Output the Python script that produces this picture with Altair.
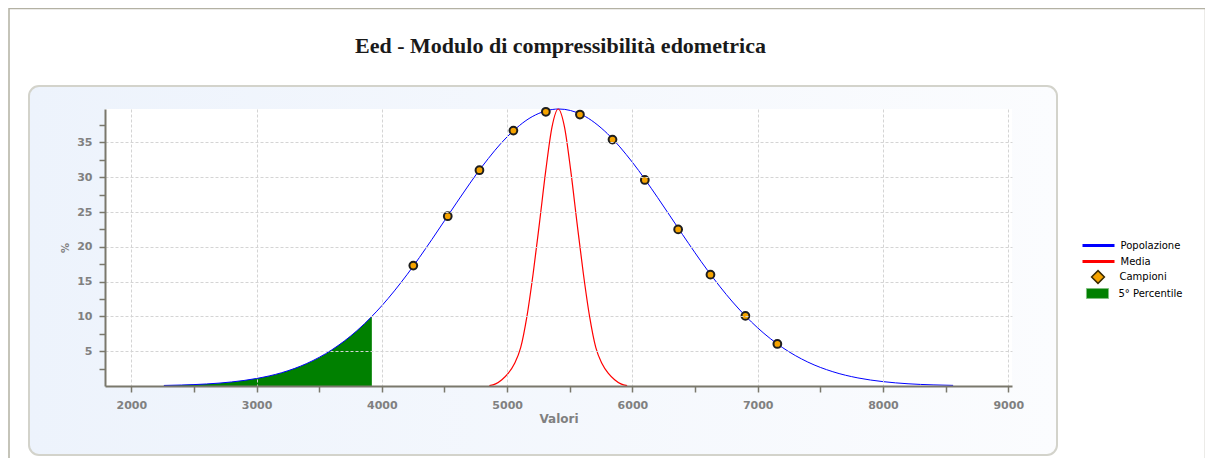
import altair as alt
import pandas as pd

# ---------------- data ----------------
TITLE = "Eed - Modulo di compressibilità edometrica"
X_TITLE = "Valori"
Y_TITLE = "%"

SERIES = ["Popolazione", "Media", "Campioni", "5° Percentile"]
COLORS = ["#0000ff", "#ff0000", "#f5a300", "#008000"]

# Popolazione (blue curve)
POP_X = [2260, 2400, 2600, 2800, 3000, 3200, 3400, 3600, 3800, 3920, 4000,
         4200, 4400, 4600, 4800, 5000, 5200, 5413, 5600, 5800, 6000, 6200,
         6400, 6600, 6800, 7000, 7200, 7400, 7600, 7800, 8000, 8200, 8400, 8560]
POP_Y = [0.08, 0.14, 0.29, 0.58, 1.08, 1.91, 3.23, 5.19, 7.93, 10.0, 11.54,
         15.98, 21.07, 26.42, 31.53, 35.80, 38.70, 39.80, 38.95, 36.27, 32.14, 27.11,
         21.76, 16.61, 12.07, 8.35, 5.50, 3.44, 2.05, 1.16, 0.63, 0.32, 0.16, 0.09]

# Media (red curve)
MEDIA_X = [4858, 4908, 4958, 5008, 5058, 5108, 5158, 5208, 5258, 5308, 5358, 5408,
           5458, 5508, 5558, 5608, 5658, 5708, 5758, 5808, 5858, 5908, 5958]
MEDIA_Y = [0.05, 0.3, 0.9, 1.8, 3.2, 5.5, 10.0, 16.2, 23.4, 30.9, 37.2, 39.8,
           37.2, 30.9, 23.4, 16.2, 10.0, 5.5, 3.2, 1.8, 0.9, 0.3, 0.05]

# Campioni (sample points)
CAMP_X = [4251, 4526, 4779, 5050, 5309, 5581, 5841, 6099, 6365, 6623, 6902, 7157]
CAMP_Y = [17.3, 24.4, 31.0, 36.7, 39.4, 39.0, 35.4, 29.6, 22.5, 16.0, 10.07, 6.04]

# 5th percentile (end of the green area)
P5 = 3920

X_DOMAIN = [1790, 9030]
Y_DOMAIN = [0, 39.8]
X_TICKS = [2000, 2500, 3000, 3500, 4000, 4500, 5000, 5500, 6000, 6500, 7000, 7500, 8000, 8500, 9000]
Y_TICKS = [2.5, 5, 7.5, 10, 12.5, 15, 17.5, 20, 22.5, 25, 27.5, 30, 32.5, 35, 37.5]

# ---------------- layout constants ----------------
W, H = 907, 277
AXIS_COL = "#7a786c"
LABEL_COL = "#808080"
GRID_COL = "#d4d4d4"
LBL_FONT = "DejaVu Sans"

pop = pd.DataFrame({"x": POP_X, "y": POP_Y, "serie": SERIES[0]})
media = pd.DataFrame({"x": MEDIA_X, "y": MEDIA_Y, "serie": SERIES[1]})
camp = pd.DataFrame({"x": CAMP_X, "y": CAMP_Y, "serie": SERIES[2]})
one = pd.DataFrame({"k": [0]})

x_axis = alt.Axis(
    values=X_TICKS, format="d",
    labelExpr="datum.value % 1000 === 0 ? datum.label : ''",
    grid=True, gridColor=GRID_COL, gridDash=[3, 2], gridWidth=1,
    gridOpacity={"condition": {"test": "datum.value % 1000 === 0", "value": 1}, "value": 0},
    domainColor=AXIS_COL, domainWidth=2, tickColor=AXIS_COL, tickWidth=1.5, tickSize=6,
    labelFont=LBL_FONT, labelFontSize=11, labelFontWeight="bold", labelColor=LABEL_COL,
    labelPadding=7, labelFlush=False, labelOverlap=False,
    title=X_TITLE, titleFont=LBL_FONT, titleFontSize=12, titleFontWeight="bold",
    titleColor=LABEL_COL, titlePadding=3, zindex=1,
)
y_axis = alt.Axis(
    values=Y_TICKS,
    labelExpr="datum.value % 5 === 0 ? datum.label : ''",
    grid=True, gridColor=GRID_COL, gridDash=[3, 2], gridWidth=1,
    gridOpacity={"condition": {"test": "datum.value % 5 === 0", "value": 1}, "value": 0},
    domainColor=AXIS_COL, domainWidth=2, tickColor=AXIS_COL, tickWidth=1.5, tickSize=6,
    labelFont=LBL_FONT, labelFontSize=11, labelFontWeight="bold", labelColor=LABEL_COL,
    labelPadding=7, labelOverlap=False,
    title=Y_TITLE, titleFont=LBL_FONT, titleFontSize=10, titleFontWeight="bold",
    titleColor=LABEL_COL, titlePadding=6, zindex=1,
)
xs = alt.Scale(domain=X_DOMAIN, nice=False, zero=False)
ys = alt.Scale(domain=Y_DOMAIN, nice=False, zero=False)


def legend(row_y, symbol, **kw):
    return alt.Legend(
        title=None, orient="none", legendX=976, legendY=row_y,
        symbolType=symbol, symbolSize=1024, symbolOffset=0, padding=0,
        labelOffset=4.5, labelFont=LBL_FONT, labelFontSize=10, labelColor="#000000",
        **kw,
    )


# ---------------- decorations ----------------
frame = alt.Chart(one).mark_rect(filled=False, stroke="#b3b1a3", strokeWidth=1.5).encode(
    x=alt.value(-96), x2=alt.value(1100.5), y=alt.value(-100.5), y2=alt.value(400)
)
panel = alt.Chart(one).mark_rect(
    cornerRadius=10, stroke="#d3d3cb", strokeWidth=2,
    fill=alt.LinearGradient(
        gradient="linear", x1=0, x2=1, y1=0, y2=0,
        stops=[alt.GradientStop(color="#edf3fc", offset=0),
               alt.GradientStop(color="#fbfcfe", offset=1)],
    ),
).encode(x=alt.value(-76), x2=alt.value(952), y=alt.value(-23), y2=alt.value(346))
plotbg = alt.Chart(one).mark_rect(fill="#ffffff").encode(
    x=alt.value(0), x2=alt.value(W), y=alt.value(0), y2=alt.value(H)
)

# ---------------- data layers ----------------
area = alt.Chart(pop).transform_filter(f"datum.x <= {P5}").transform_calculate(
    serie=f"'{SERIES[3]}'"
).mark_area(interpolate="monotone", opacity=1).encode(
    x=alt.X("x:Q", scale=xs, axis=x_axis),
    y=alt.Y("y:Q", scale=ys, axis=y_axis),
    color=alt.Color("serie:N", scale=alt.Scale(domain=[SERIES[3]], range=[COLORS[3]]),
                    legend=legend(168, "M-0.69,-0.31H0.69V0.31H-0.69Z",
                                  symbolStrokeColor="#7fbf7f", symbolStrokeWidth=1)),
)
pop_line = alt.Chart(pop).mark_line(interpolate="monotone", strokeWidth=1).encode(
    x=alt.X("x:Q", scale=xs, axis=x_axis),
    y=alt.Y("y:Q", scale=ys, axis=y_axis),
    color=alt.Color("serie:N", scale=alt.Scale(domain=[SERIES[0]], range=[COLORS[0]]),
                    legend=legend(119, "M-1,0H1", symbolStrokeWidth=3)),
)
media_line = alt.Chart(media).mark_line(interpolate="monotone", strokeWidth=1.2).encode(
    x=alt.X("x:Q", scale=xs, axis=x_axis),
    y=alt.Y("y:Q", scale=ys, axis=y_axis),
    color=alt.Color("serie:N", scale=alt.Scale(domain=[SERIES[1]], range=[COLORS[1]]),
                    legend=legend(135, "M-1,0H1", symbolStrokeWidth=3)),
)
points = alt.Chart(camp).mark_point(
    shape="circle", filled=True, size=60, stroke="#1e1e1e", strokeWidth=2, opacity=1
).encode(
    x=alt.X("x:Q", scale=xs, axis=x_axis),
    y=alt.Y("y:Q", scale=ys, axis=y_axis),
    color=alt.Color("serie:N", scale=alt.Scale(domain=[SERIES[2]], range=[COLORS[2]]),
                    legend=legend(151, "M0,-0.4L0.4,0L0,0.4L-0.4,0Z",
                                  symbolStrokeColor="#3a2a00", symbolStrokeWidth=1.5)),
)

chart = alt.layer(frame, panel, plotbg, area, pop_line, media_line, points).resolve_scale(
    color="independent"
).resolve_legend(color="independent").properties(
    width=W, height=H,
    title=alt.TitleParams(
        text=TITLE, font="Liberation Serif", fontSize=22, fontWeight="bold",
        color="#1a1a1a", anchor="middle", frame="group", baseline="alphabetic",
        offset=0, dy=67.5, dx=2,
    ),
    padding={"left": 97, "top": 101, "right": 193, "bottom": 72},
    autosize=alt.AutoSizeParams(type="none"),
).configure_view(stroke=None).configure(background="#ffffff")

chart.save("out.html", embed_options={"renderer": "svg", "actions": False})
